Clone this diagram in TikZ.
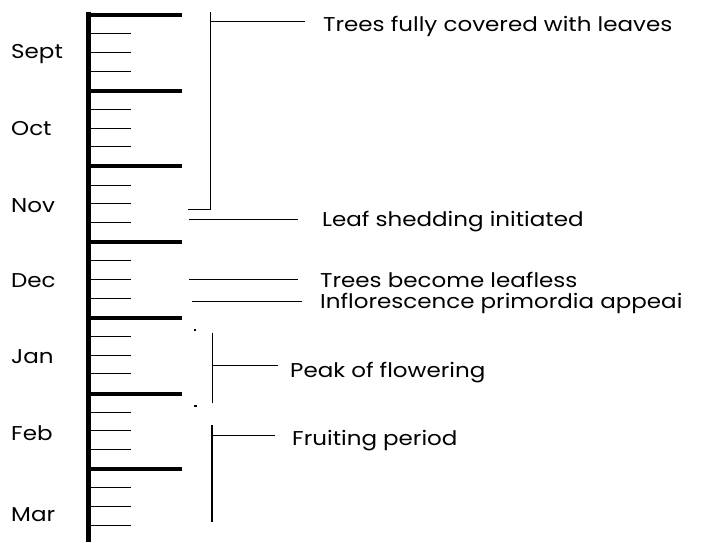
\documentclass[tikz,border=0pt]{standalone}
\usepackage{fontspec}
\setmainfont{Poppins}[FakeStretch=1.15]
\begin{document}
\begin{tikzpicture}[x=1pt,y=-1pt,
    every node/.style={anchor=base west, inner sep=0pt, font=\fontsize{20}{24}\selectfont},
    major/.style={line width=4pt},
    minor/.style={line width=1.1pt},
    lead/.style={line width=1pt}]
    \useasboundingbox (0,0) rectangle (701,542);
    % time axis with month ticks
    \draw[line width=5pt] (88,12) -- (88,542);
    \foreach \m in {0,...,6}{
        \draw[major] (88,15+75.7*\m) -- (182,15+75.7*\m);
        \foreach \k in {1,2,3}
            \draw[minor] (88,15+75.7*\m+18.7*\k) -- (131,15+75.7*\m+18.7*\k);
    }
    \foreach \mon/\y in {Sept/58,Oct/135,Nov/212,Dec/287,Jan/363,Feb/440,Mar/521}
        \node (\mon) at (11,\y) {\mon};
    % events
    \node (full) at (323,31) {Trees fully covered with leaves};
    \coordinate (fullTop) at (210,12);
    \coordinate (fullKnee) at (210,21);
    \coordinate (fullEnd) at (188,209);
    \draw[lead] (fullTop) |- (fullEnd);
    \draw[lead] (fullKnee) -- (fullKnee -| 305,0);
    \node (shed) at (322,226) {Leaf shedding initiated};
    \coordinate (shedStart) at (189,219);
    \draw[lead] (shedStart) -- (shedStart -| 298,0);
    \node (bare) at (320,287) {Trees become leafless};
    \coordinate (bareStart) at (189,279);
    \draw[lead] (bareStart) -- (bareStart -| 298,0);
    \node (prim) at (320,308) {Inflorescence primordia appeai};
    \coordinate (primStart) at (192,301);
    \draw[lead] (primStart) -- (primStart -| 302,0);
    \fill (194,329) rectangle (196,331);
    \fill (194,405) rectangle (197,406.5);
    \node (peak) at (290,377) {Peak of flowering};
    \coordinate (peakTop) at (212,333);
    \coordinate (peakEnd) at (212,403);
    \coordinate (peakKnee) at (212,365);
    \draw[lead] (peakTop) -- (peakEnd);
    \draw[lead] (peakKnee) -- (peakKnee -| 278,0);
    \node (fruit) at (292,445) {Fruiting period};
    \coordinate (fruitTop) at (212,425);
    \coordinate (fruitEnd) at (212,522);
    \coordinate (fruitKnee) at (212,435);
    \draw[line width=1.4pt] (fruitTop) -- (fruitEnd);
    \draw[lead] (fruitKnee) -- (fruitKnee -| 275,0);
\end{tikzpicture}
\end{document}
